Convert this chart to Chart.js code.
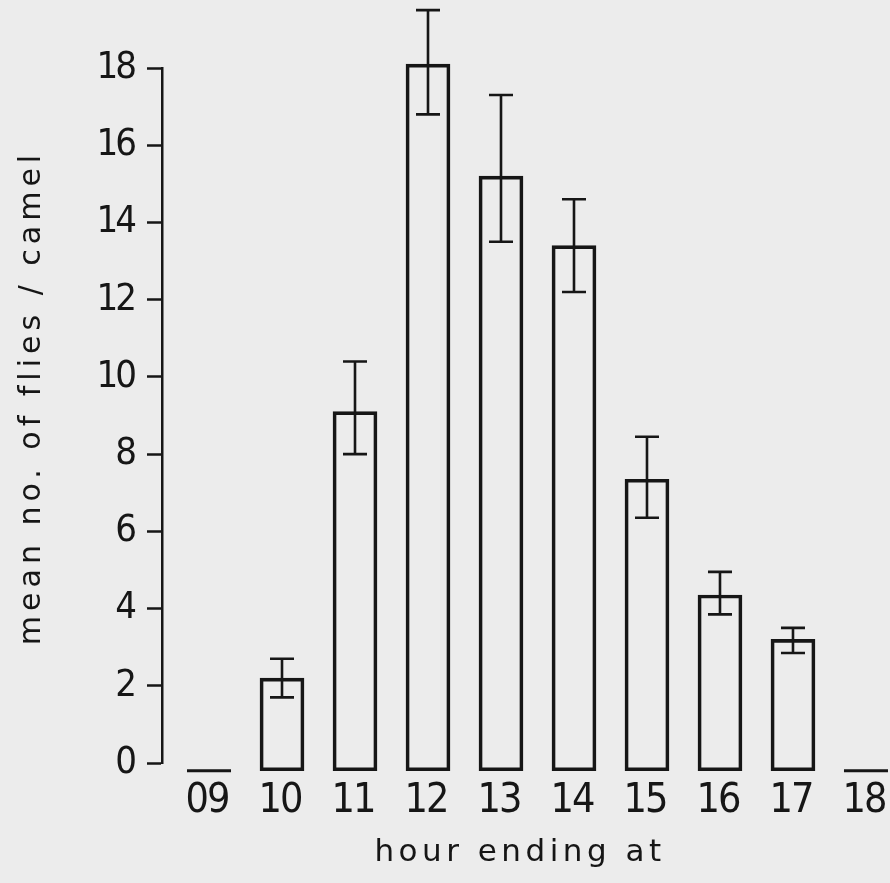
<!DOCTYPE html>
<html><head><meta charset="utf-8">
<script src="https://cdn.jsdelivr.net/npm/chart.js@4.4.1/dist/chart.umd.min.js"></script>
<style>html,body{margin:0;padding:0;background:#ececec;overflow:hidden;}</style>
</head><body>
<canvas id="c" width="890" height="883"></canvas>
<script>
// ---- data ----
const hourLabels = ['09','10','11','12','13','14','15','16','17','18'];
const meanFlies  = [0, 2.2, 9.1, 18.1, 15.2, 13.4, 7.35, 4.35, 3.2, 0];
const errUpper   = [null, 2.7, 10.4, 19.5, 17.3, 14.6, 8.45, 4.95, 3.5, null];
const errLower   = [null, 1.7, 8.0, 16.8, 13.5, 12.2, 6.35, 3.85, 2.85, null];
const yTickValues = [0, 2, 4, 6, 8, 10, 12, 14, 16, 18];

const hourValues = hourLabels.map(h => parseInt(h, 10));
const INK = '#161616';
const NUMFONT = "'DejaVu Sans Condensed','DejaVu Sans',sans-serif";
const TXTFONT = "'DejaVu Sans',sans-serif";

const background = {
  id: 'background',
  beforeDraw(chart) {
    const c = chart.ctx; c.save(); c.fillStyle = '#ececec';
    c.fillRect(0, 0, chart.width, chart.height); c.restore();
  }
};

// spaced / tightened lettering, as in the stencil lettering of the original
const lettering = {
  id: 'lettering',
  beforeDraw(chart) {
    const cfg = {
      x: { title: { spacing: '4.5px', dx: -6, dy: 2 }, labels: { spacing: '-2px', dx: -2, dy: 0 } },
      y: { title: { spacing: '5px', dx: 0, dy: -18 }, labels: { spacing: '-3px', dx: 0, dy: 0 } }
    };
    Object.keys(cfg).forEach(id => {
      const s = chart.scales[id];
      if (!s || s._letteringPatched) return;
      const wrap = (name, o) => {
        const orig = s[name].bind(s);
        s[name] = function () {
          const c = chart.ctx; c.save();
          c.letterSpacing = o.spacing;
          c.translate(o.dx, o.dy);
          orig(...arguments);
          c.restore();
        };
      };
      wrap('drawTitle', cfg[id].title);
      wrap('drawLabels', cfg[id].labels);
      s._letteringPatched = true;
    });
  }
};

const errorBars = {
  id: 'errorBars',
  afterDatasetsDraw(chart) {
    const meta = chart.getDatasetMeta(0);
    const ys = chart.scales.y;
    const c = chart.ctx;
    c.save();
    c.strokeStyle = INK;
    c.lineCap = 'butt';
    meta.data.forEach((el, i) => {
      const p = el.getProps(['x', 'y', 'base', 'width'], true);
      if (meanFlies[i] === 0) {
        c.lineWidth = 3;
        c.beginPath();
        c.moveTo(p.x - p.width / 2, p.base);
        c.lineTo(p.x + p.width / 2, p.base);
        c.stroke();
        return;
      }
      if (errUpper[i] == null) return;
      const yh = ys.getPixelForValue(errUpper[i]);
      const yl = ys.getPixelForValue(errLower[i]);
      const cap = 12;
      c.lineWidth = 2.6;
      c.beginPath();
      c.moveTo(p.x, yh); c.lineTo(p.x, yl);
      c.moveTo(p.x - cap, yh); c.lineTo(p.x + cap, yh);
      c.moveTo(p.x - cap, yl); c.lineTo(p.x + cap, yl);
      c.stroke();
    });
    c.restore();
  }
};

new Chart(document.getElementById('c'), {
  type: 'bar',
  data: {
    datasets: [{
      data: hourValues.map((h, i) => ({ x: h, y: meanFlies[i] })),
      base: -0.2,
      barThickness: 44,
      borderWidth: 3,
      borderSkipped: false,
      borderColor: ctx => meanFlies[ctx.dataIndex] === 0 ? 'rgba(0,0,0,0)' : INK,
      backgroundColor: 'rgba(0,0,0,0)',
      clip: false
    }]
  },
  options: {
    responsive: false,
    animation: false,
    devicePixelRatio: 1,
    layout: { padding: { top: 68, right: 0, left: 0, bottom: 0 } },
    plugins: { legend: { display: false }, tooltip: { enabled: false } },
    scales: {
      x: {
        type: 'linear',
        offset: false,
        min: 8.356,
        max: 18.329,
        afterBuildTicks: s => { s.ticks = hourValues.map(v => ({ value: v })); },
        afterFit: s => { s.height = 120; s.paddingLeft = 0; s.paddingRight = 0; },
        grid: { display: false, drawTicks: false },
        border: { display: false },
        ticks: {
          autoSkip: false, maxRotation: 0,
          callback: v => { const k = hourValues.indexOf(v); return k >= 0 ? hourLabels[k] : ''; },
          font: { family: NUMFONT, size: 41 }, color: INK, padding: 14
        },
        title: {
          display: true, text: 'hour ending at',
          font: { family: TXTFONT, size: 31 }, color: INK,
          padding: { top: 0, bottom: 13 }
        }
      },
      y: {
        min: 0, max: 18,
        afterBuildTicks: s => { s.ticks = yTickValues.map(v => ({ value: v })); },
        afterFit: s => { s.width = 162; },
        grid: { drawOnChartArea: false, drawTicks: true, tickLength: 15, tickWidth: 2.5, tickColor: INK },
        border: { display: true, color: INK, width: 2.5 },
        ticks: { font: { family: NUMFONT, size: 38 }, color: INK, padding: 13 },
        title: {
          display: true, text: 'mean no. of flies / camel',
          font: { family: TXTFONT, size: 30 }, color: INK,
          padding: { top: 14, bottom: 0 }
        }
      }
    }
  },
  plugins: [background, lettering, errorBars]
});
</script>
</body></html>
